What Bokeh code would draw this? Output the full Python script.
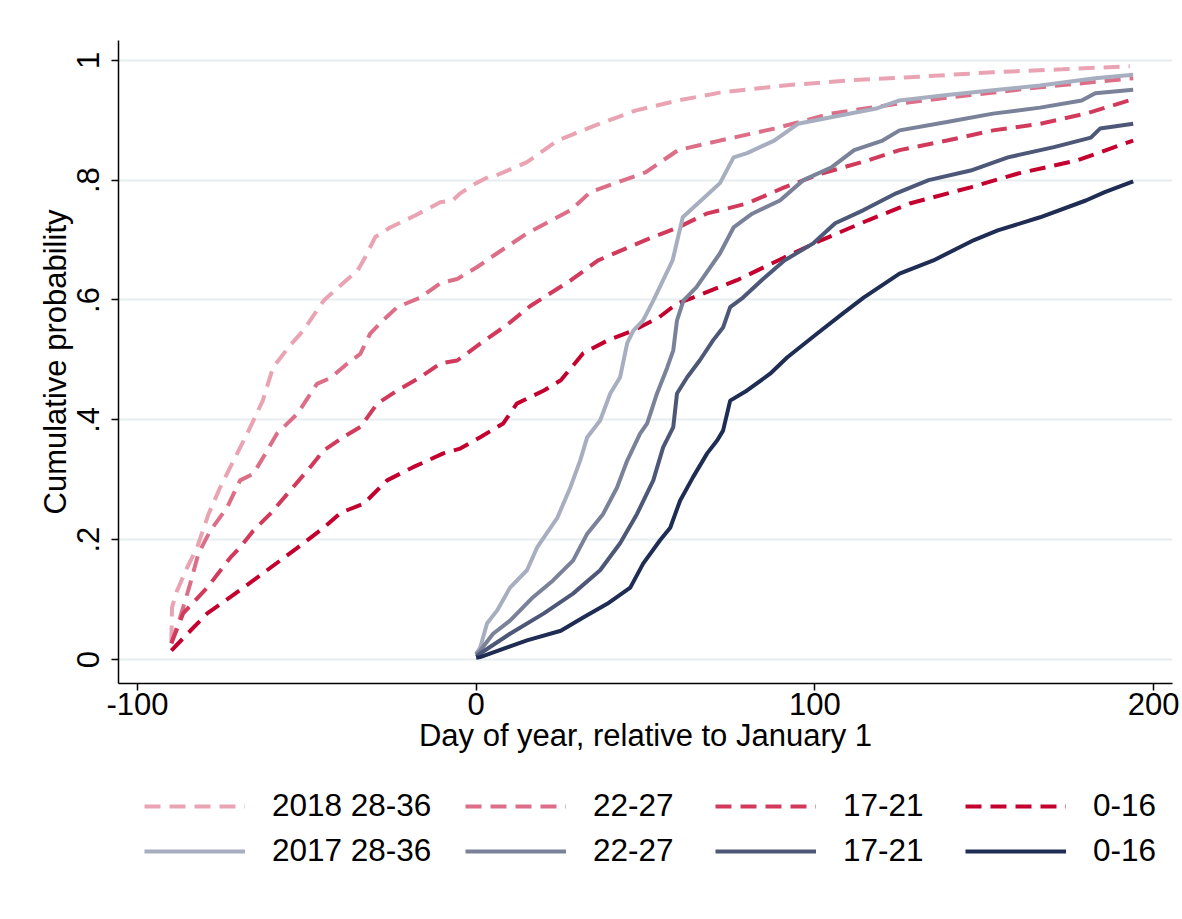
from bokeh.plotting import figure
from bokeh.models import Range1d, FixedTicker, Legend, LegendItem
from bokeh.layouts import column
from bokeh.embed import file_html
from bokeh.resources import INLINE

# ---------------- data ----------------
x_ticks = [-100, 0, 100, 200]
x_tick_labels = ["-100", "0", "100", "200"]
y_ticks = [0, 0.2, 0.4, 0.6, 0.8, 1.0]
y_tick_labels = ["0", ".2", ".4", ".6", ".8", "1"]

# 2018 (dashed)
d18_2836 = [-90, -89.8, -88.3, -85.3, -82.4, -79, -75.6, -72.6, -67.6, -63, -60, -55, -51, -48.4, -45,
            -40.7, -35, -32.8, -29.8, -25.4, -18, -10.6, -7, -4.7, 0, 3.5, 6, 13, 15, 24, 35, 47, 59.6,
            72, 91, 111.6, 132, 152.6, 173, 193]
p18_2836 = [.03, .087, .115, .154, .187, .243, .287, .321, .377, .432, .487, .524, .549, .571, .599,
            .621, .649, .671, .705, .721, .741, .763, .766, .778, .795, .805, .808, .825, .83, .866, .891,
            .916, .933, .946, .958, .967, .973, .98, .985, .99]

d18_2227 = [-90, -87.4, -84.4, -82, -78.5, -73.5, -69.7, -65.8, -62.9, -58.8, -52.8, -47, -43, -38,
            -34.2, -31.3, -27.5, -23.3, -16.5, -10.6, -5.6, 0.3, 6.2, 15, 28, 33.7, 50, 59.6, 72, 88,
            104.8, 125, 146, 166.5, 194]
p18_2227 = [.027, .07, .127, .177, .215, .254, .299, .31, .337, .377, .41, .46, .47, .494, .51, .544,
            .566, .588, .604, .628, .635, .655, .678, .711, .75, .78, .813, .85, .866, .886, .911, .928,
            .942, .955, .97]

d18_1721 = [-90, -86.5, -79.4, -72.6, -69.7, -65.8, -60.8, -54.9, -49, -45, -39.3, -34.2, -29.2,
            -23.3, -16.5, -10.6, -5.6, 1.2, 9, 16, 28, 36, 50, 59.6, 68, 80, 91, 102, 115.7, 125, 139,
            152.6, 166.5, 180, 194]
p18_1721 = [.027, .077, .12, .17, .187, .215, .243, .282, .321, .349, .371, .388, .427, .449, .471,
            .494, .499, .527, .558, .59, .633, .666, .7, .721, .744, .761, .788, .811, .833, .85, .866,
            .883, .894, .911, .935]

d18_0016 = [-90, -84.4, -79.4, -72.6, -65.8, -57.9, -51, -45, -40, -33.2, -26.3, -18.6, -9.7, -4.7,
            1.2, 8, 12, 20, 25, 31.6, 39, 46.4, 54, 59.3, 64, 77, 91, 102, 115.7, 128, 146, 160, 177.5,
            194]
p18_0016 = [.015, .048, .077, .104, .132, .165, .194, .22, .245, .26, .299, .321, .344, .352, .371,
            .394, .427, .449, .466, .511, .533, .549, .571, .594, .604, .633, .671, .7, .733, .761,
            .788, .811, .833, .866]

# 2017 (solid)
d17_2836 = [0, 1.2, 3.2, 6.2, 10, 15, 18, 24, 27.8, 30.7, 32.8, 36.6, 39.6, 42.5, 44.6, 46.4, 49.3,
            52.3, 58, 61, 66.4, 72, 76, 80, 88, 95, 104.8, 118.5, 125, 139, 152.6, 166.5, 182.8, 194]
p17_2836 = [.01, .02, .06, .082, .12, .149, .187, .237, .287, .332, .371, .399, .444, .471, .528,
            .549, .566, .599, .666, .738, .766, .795, .838, .845, .866, .894, .905, .92, .933, .942,
            .95, .958, .97, .976]

d17_2227 = [0, 1.2, 5, 10, 16.8, 22.7, 28.6, 32.8, 37.5, 41.6, 44.6, 48.4, 50.5, 53.4, 56.4, 58.2,
            59.3, 61.2, 65, 72, 76, 81.5, 89.7, 96.6, 104.8, 111.6, 120, 125, 139, 152.6, 166.5, 178.8,
            182.8, 194]
p17_2227 = [.008, .015, .043, .065, .104, .132, .165, .21, .243, .287, .332, .377, .394, .444, .487,
            .516, .566, .599, .621, .678, .721, .744, .766, .8, .821, .85, .866, .883, .897, .911,
            .921, .933, .945, .951]

d17_1721 = [0, 1.2, 10, 20, 28.6, 36.6, 42.5, 47.5, 52.3, 55.2, 58.2, 59.3, 62.3, 66, 70, 72.9, 75,
            78.8, 84.3, 91, 99.4, 106, 114.4, 124, 133.6, 146, 157, 170.6, 181.5, 184.2, 194]
p17_1721 = [.005, .01, .043, .077, .11, .149, .194, .243, .299, .354, .388, .444, .471, .499, .533,
            .554, .588, .604, .633, .666, .694, .728, .75, .778, .8, .816, .838, .855, .871, .886, .894]

d17_0016 = [0, 1.2, 15, 25, 31.6, 38.7, 45.5, 49.3, 54.3, 57.3, 60.2, 64, 68.2, 71.2, 72.9, 75, 80,
            86.8, 91.8, 100.7, 108.4, 114.4, 125, 135, 147, 154, 166.5, 180, 185.6, 194]
p17_0016 = [.003, .004, .032, .048, .07, .093, .12, .16, .199, .22, .265, .304, .344, .366, .382,
            .432, .449, .477, .504, .544, .578, .604, .644, .666, .7, .716, .738, .766, .78, .798]

labels_2018 = ["2018 28-36", "22-27", "17-21", "0-16"]
labels_2017 = ["2017 28-36", "22-27", "17-21", "0-16"]
colors_2018 = ["#e9a3b3", "#dd6e88", "#d23a5c", "#c4002f"]
colors_2017 = ["#a7aebf", "#7a8299", "#4d5878", "#1f2d54"]

FONT = "Liberation Sans"
DASH = "16 9"
LW = 4

# ---------------- main plot ----------------
p = figure(width=1182, height=770,
           x_range=Range1d(-105.6, 205.6), y_range=Range1d(-0.04, 1.033),
           output_backend="svg", toolbar_location=None,
           min_border_left=118, min_border_right=10, min_border_top=40, min_border_bottom=87)
p.outline_line_color = None
p.background_fill_color = "white"
p.border_fill_color = "white"

p.xgrid.grid_line_color = None
p.ygrid.grid_line_color = "#e6eef0"
p.ygrid.grid_line_width = 2
p.ygrid.ticker = FixedTicker(ticks=y_ticks)

p.xaxis.ticker = FixedTicker(ticks=x_ticks)
p.xaxis.major_label_overrides = {t: l for t, l in zip(x_ticks, x_tick_labels)}
p.yaxis.ticker = FixedTicker(ticks=y_ticks)
p.yaxis.major_label_overrides = {t: l for t, l in zip(y_ticks, y_tick_labels)}
p.yaxis.major_label_orientation = "vertical"

for ax in (p.xaxis, p.yaxis):
    ax.axis_line_color = "black"
    ax.axis_line_width = 1.5
    ax.major_tick_line_color = "black"
    ax.major_tick_line_width = 1.5
    ax.major_tick_out = 7
    ax.major_tick_in = 0
    ax.minor_tick_line_color = None
    ax.major_label_text_font = FONT
    ax.major_label_text_font_size = "31px"
    ax.major_label_text_color = "black"
    ax.axis_label_text_font = FONT
    ax.axis_label_text_font_size = "31px"
    ax.axis_label_text_font_style = "normal"
    ax.axis_label_text_color = "black"

p.xaxis.axis_label = "Day of year, relative to January 1"
p.yaxis.axis_label = "Cumulative probability"
p.xaxis.major_label_standoff = 2
p.xaxis.axis_label_standoff = 0
p.yaxis.major_label_standoff = 12
p.yaxis.axis_label_standoff = 2

series18 = [(d18_2836, p18_2836), (d18_2227, p18_2227), (d18_1721, p18_1721), (d18_0016, p18_0016)]
series17 = [(d17_2836, p17_2836), (d17_2227, p17_2227), (d17_1721, p17_1721), (d17_0016, p17_0016)]

for (xs, ys), c in zip(series18, colors_2018):
    p.line(xs, ys, line_color=c, line_width=LW, line_dash=DASH)
for (xs, ys), c in zip(series17, colors_2017):
    p.line(xs, ys, line_color=c, line_width=LW)

# ---------------- legend strip (its frame is aligned with the main frame) ----------------
# The strip's ranges lie outside all data, so its copies of the series only feed the legend.
leg = figure(width=1182, height=149, x_range=Range1d(1000, 1001), y_range=Range1d(1000, 1001),
             x_axis_type=None, y_axis_type=None,
             output_backend="svg", toolbar_location=None,
             min_border_left=118, min_border_right=10, min_border_top=0, min_border_bottom=0)
leg.outline_line_color = None
leg.xgrid.grid_line_color = None
leg.ygrid.grid_line_color = None
leg.border_fill_color = "white"
leg.background_fill_color = "white"

col_x = [26, 347, 597, 847]   # offsets from the frame's left edge
for i in range(4):
    r_a = leg.line(series18[i][0], series18[i][1], line_color=colors_2018[i], line_width=LW, line_dash=DASH)
    r_b = leg.line(series17[i][0], series17[i][1], line_color=colors_2017[i], line_width=LW)
    lg = Legend(items=[LegendItem(label=labels_2018[i], renderers=[r_a]),
                       LegendItem(label=labels_2017[i], renderers=[r_b])],
                location=(col_x[i], 50),
                border_line_color=None, background_fill_alpha=0,
                padding=0, margin=0, spacing=8,
                glyph_width=101, glyph_height=36, label_height=36,
                label_standoff=27,
                label_text_font=FONT, label_text_font_size="31.5px",
                label_text_color="black", label_text_baseline="middle")
    leg.add_layout(lg, "center")

layout = column(p, leg, spacing=0)
open("out.html", "w").write(file_html(layout, INLINE))
